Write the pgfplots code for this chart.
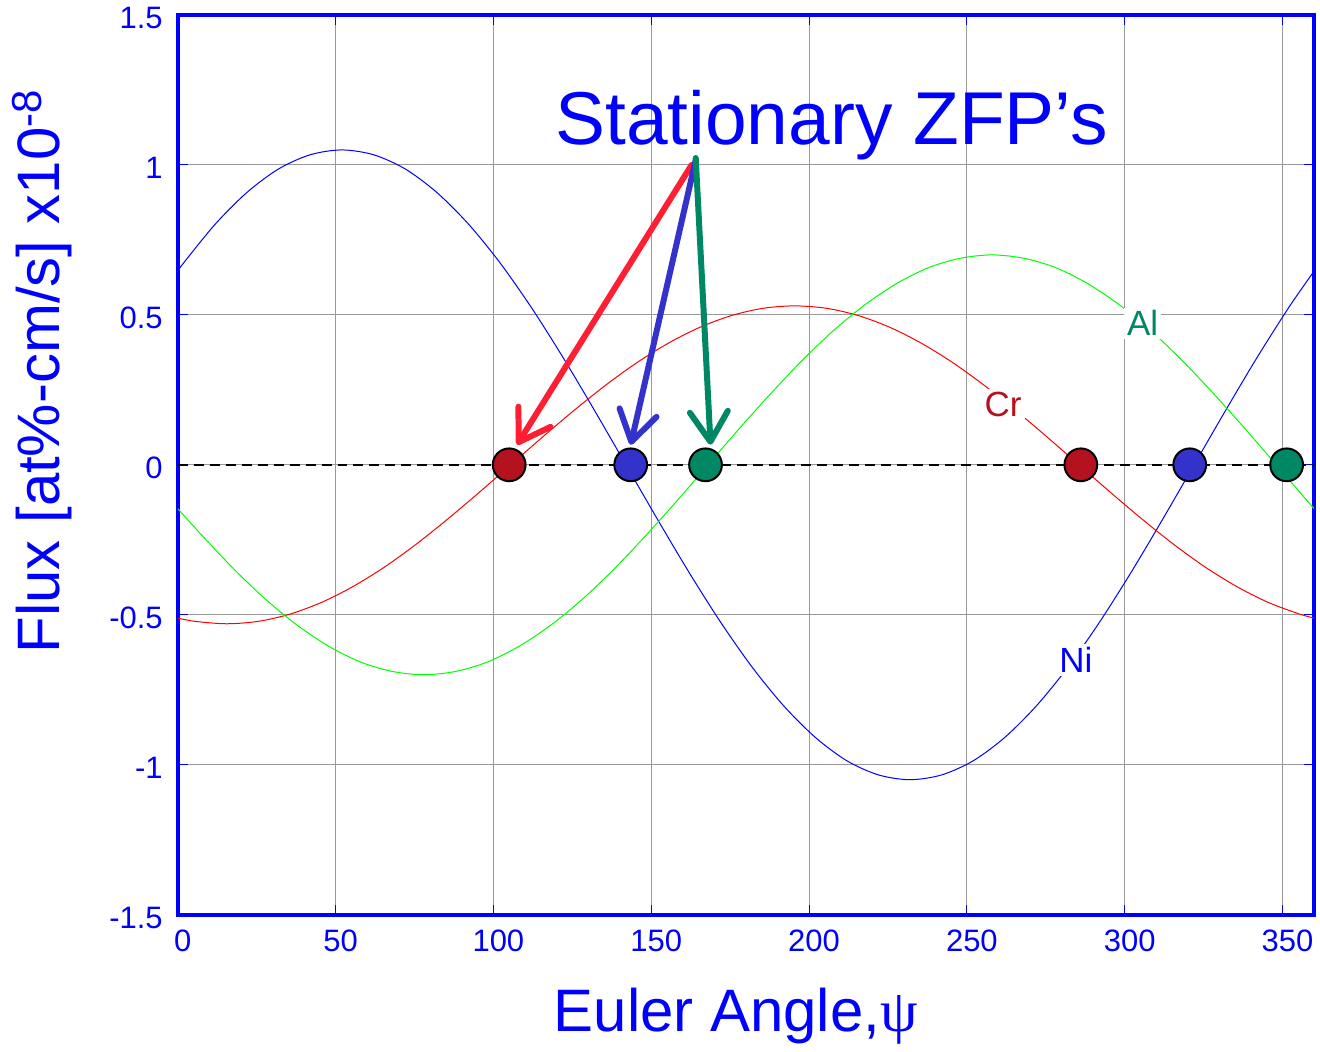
\documentclass[border=0pt]{standalone}
\usepackage{fontspec}
\setmainfont{Liberation Sans}
\newfontfamily\greekfont{Liberation Serif}
\usepackage{pgfplots}
\pgfplotsset{compat=1.18}
\usetikzlibrary{arrows.meta}
\definecolor{crdark}{RGB}{181,18,32}
\definecolor{niblue}{RGB}{51,51,204}
\definecolor{algreen}{RGB}{0,135,100}
\definecolor{arrred}{RGB}{255,30,50}
\begin{document}
\begin{tikzpicture}
\begin{axis}[
  scale only axis, width=569pt, height=450.5pt,
  xmin=0, xmax=360, ymin=-1.5, ymax=1.5,
  xtick={0,50,100,150,200,250,300,350},
  ytick={-1.5,-1,-0.5,0,0.5,1,1.5},
  grid=major, grid style={color=black!40, line width=0.5pt},
  axis line style={blue, line width=2pt},
  tick style={blue, line width=0.5pt},
  major tick length=5pt, tick align=inside,
  ticklabel style={font=\fontsize{15.5}{18}\selectfont, text=blue},
  xticklabel style={xshift=2.5pt, yshift=-4pt},
  yticklabel style={xshift=-4pt, yshift=-1.5pt},
  /pgf/number format/assume math mode=true,
  xlabel={Euler Angle,{\greekfont ψ}},
  ylabel={Flux [at\%-cm/s] x10\textsuperscript{-8}},
  label style={font=\fontsize{30}{36}\selectfont, text=blue},
  xlabel style={at={(axis description cs:0.491,-0.113)}, anchor=center},
  ylabel style={at={(axis description cs:-0.1195,0.604)}, anchor=center},
]
% Ni
\addplot[blue, line width=0.5pt, smooth] coordinates {
(0,0.646)(2,0.675)(12,0.804)(22,0.909)(32,0.987)(42,1.034)(52,1.05)(62,1.034)(72,0.987)(82,0.909)(92,0.804)(102,0.675)(112,0.525)(122,0.359)(132,0.182)(142,0)(152,-0.182)(162,-0.359)(172,-0.525)(182,-0.675)(192,-0.804)(202,-0.909)(212,-0.987)(222,-1.034)(232,-1.05)(242,-1.034)(252,-0.987)(262,-0.909)(272,-0.804)(282,-0.675)(292,-0.525)(302,-0.359)(312,-0.182)(322,0)(332,0.182)(342,0.359)(352,0.525)(360,0.646)};
% Cr
\addplot[red, line width=0.5pt, smooth] coordinates {
(0,-0.511)(5.5,-0.522)(15.5,-0.53)(25.5,-0.522)(35.5,-0.498)(45.5,-0.459)(55.5,-0.406)(65.5,-0.341)(75.5,-0.265)(85.5,-0.181)(95.5,-0.092)(105.5,0)(115.5,0.092)(125.5,0.181)(135.5,0.265)(145.5,0.341)(155.5,0.406)(165.5,0.459)(175.5,0.498)(185.5,0.522)(195.5,0.53)(205.5,0.522)(215.5,0.498)(225.5,0.459)(235.5,0.406)(245.5,0.341)(255.5,0.265)(265.5,0.181)(275.5,0.092)(285.5,0)(295.5,-0.092)(305.5,-0.181)(315.5,-0.265)(325.5,-0.341)(335.5,-0.406)(345.5,-0.459)(355.5,-0.498)(360,-0.511)};
% Al
\addplot[green, line width=0.5pt, smooth] coordinates {
(0,-0.146)(8,-0.239)(18,-0.35)(28,-0.45)(38,-0.536)(48,-0.606)(58,-0.658)(68,-0.689)(78,-0.7)(88,-0.689)(98,-0.658)(108,-0.606)(118,-0.536)(128,-0.45)(138,-0.35)(148,-0.239)(158,-0.122)(168,0)(178,0.122)(188,0.239)(198,0.35)(208,0.45)(218,0.536)(228,0.606)(238,0.658)(248,0.689)(258,0.7)(268,0.689)(278,0.658)(288,0.606)(298,0.536)(308,0.45)(318,0.35)(328,0.239)(338,0.122)(348,0)(358,-0.122)(360,-0.146)};
% zero line
\addplot[black, line width=1pt, dash pattern=on 5pt off 3pt] coordinates {(0,0)(360,0)};
% stationary points
\addplot[only marks, mark=*, mark size=8.2pt, mark options={fill=crdark, draw=black, line width=1pt}] coordinates {(105,0)(286.1,0)};
\addplot[only marks, mark=*, mark size=8.2pt, mark options={fill=niblue, draw=black, line width=1pt}] coordinates {(143.5,0)(320.6,0)};
\addplot[only marks, mark=*, mark size=8.2pt, mark options={fill=algreen, draw=black, line width=1pt}] coordinates {(167.2,0)(351.3,0)};
% labels
\node[fill=white, inner sep=1.5pt, text=algreen, font=\fontsize{17.5}{20}\selectfont, anchor=base] at (axis cs:305.7,0.43) {Al};
\node[fill=white, inner sep=1.5pt, text=crdark, font=\fontsize{17.5}{20}\selectfont, anchor=base] at (axis cs:261.5,0.16) {Cr};
\node[fill=white, inner sep=1.5pt, text=blue, font=\fontsize{17.5}{20}\selectfont, anchor=base] at (axis cs:284.5,-0.693) {Ni};
% arrows
\draw[arrred, line width=3pt, line cap=round, -{Straight Barb[length=15pt,width=19pt,round]}] (axis cs:162.8,1.0) -- (axis cs:107.5,0.067);
\draw[niblue, line width=3pt, line cap=round, -{Straight Barb[length=15pt,width=19pt,round]}] (axis cs:164.1,1.017) -- (axis cs:143.5,0.067);
\draw[algreen, line width=3pt, line cap=round, -{Straight Barb[length=15pt,width=19pt,round]}] (axis cs:164.1,1.023) -- (axis cs:168.8,0.067);
\node[text=blue, font=\fontsize{37.5}{44}\selectfont, anchor=base] at (axis cs:207.1,1.067) {Stationary ZFP’s};
\end{axis}
\path[use as bounding box] (-89pt,-67pt) rectangle (571pt,458pt);
\end{tikzpicture}
\end{document}
